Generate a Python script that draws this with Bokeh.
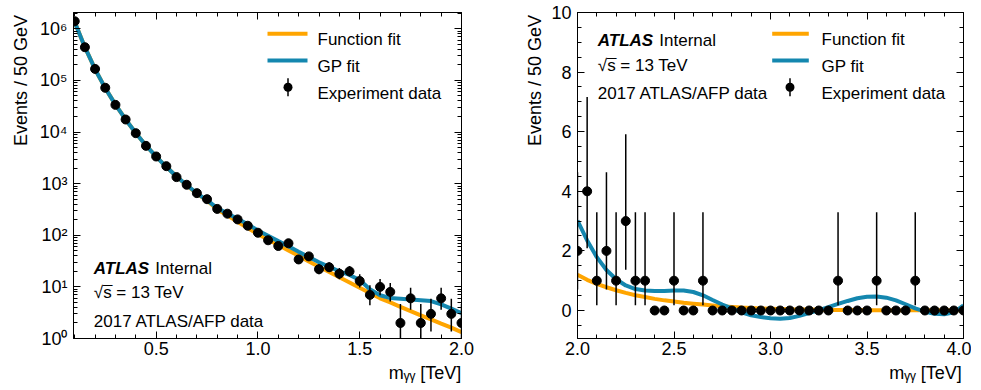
import numpy as np
from bokeh.plotting import figure
from bokeh.layouts import row
from bokeh.models import (Range1d, FixedTicker, LinearAxis, LogAxis, Label,
                          BoxAnnotation, CustomJSTickFormatter)
from bokeh.embed import file_html
from bokeh.resources import INLINE

# ---------------- data ----------------
bins_left = [0.10, 0.15, 0.20, 0.25, 0.30, 0.35, 0.40, 0.45, 0.50, 0.55,
             0.60, 0.65, 0.70, 0.75, 0.80, 0.85, 0.90, 0.95, 1.00, 1.05,
             1.10, 1.15, 1.20, 1.25, 1.30, 1.35, 1.40, 1.45, 1.50, 1.55,
             1.60, 1.65, 1.70, 1.75, 1.80, 1.85, 1.90, 1.95, 2.00]
counts_left = [1400000, 440000, 167000, 72000, 33600, 17500, 9500, 5400, 3360, 2180,
               1340, 952, 655, 500, 324, 262, 203, 153, 112, 80,
               62, 70, 34, 39, 22, 24, 18, 20, 13, 7,
               10, 8, 2, 6, 2, 3, 6, 3, 2]
func_fit_left = [1350000, 440000, 165000, 71000, 34000, 17500, 9600, 5500, 3350, 2120,
                 1380, 930, 640, 470, 316, 243, 183, 138, 105, 83,
                 65, 51, 40, 31, 24.5, 19.5, 15.4, 12.2, 9.6, 7.6,
                 6.0, 5.0, 4.1, 3.4, 2.8, 2.35, 1.95, 1.62, 1.32]
gp_fit_left = [1350000, 440000, 165000, 71000, 34000, 17500, 9600, 5500, 3350, 2120,
               1380, 940, 650, 480, 336, 265, 208, 163, 124, 98,
               77, 61, 48, 38, 30, 24.5, 20, 17, 13.6, 9.0,
               6.9, 6.1, 5.9, 5.7, 5.5, 5.3, 4.6, 3.8, 3.1]

bins_right = [2.00, 2.05, 2.10, 2.15, 2.20, 2.25, 2.30, 2.35, 2.40, 2.45,
              2.50, 2.55, 2.60, 2.65, 2.70, 2.75, 2.80, 2.85, 2.90, 2.95,
              3.00, 3.05, 3.10, 3.15, 3.20, 3.25, 3.30, 3.35, 3.40, 3.45,
              3.50, 3.55, 3.60, 3.65, 3.70, 3.75, 3.80, 3.85, 3.90, 3.95, 4.00]
counts_right = [2, 4, 1, 2, 1, 3, 1, 1, 0, 0,
                1, 0, 0, 1, 0, 0, 0, 0, 0, 0,
                0, 0, 0, 0, 0, 0, 0, 1, 0, 0,
                0, 1, 0, 0, 0, 1, 0, 0, 0, 0, 0]
func_fit_right = [1.20, 1.03, 0.89, 0.78, 0.68, 0.59, 0.51, 0.45, 0.39, 0.34,
                  0.30, 0.26, 0.23, 0.20, 0.17, 0.14, 0.12, 0.10, 0.085, 0.07,
                  0.06, 0.05, 0.04, 0.035, 0.03, 0.025, 0.02, 0.018, 0.016, 0.014,
                  0.012, 0.011, 0.010, 0.009, 0.008, 0.007, 0.007, 0.006, 0.006, 0.005, 0.005]
gp_fit_right = [3.02, 2.35, 1.79, 1.36, 1.05, 0.84, 0.72, 0.67, 0.65, 0.65,
                0.67, 0.67, 0.62, 0.51, 0.35, 0.20, 0.07, -0.06, -0.16, -0.22,
                -0.26, -0.28, -0.25, -0.18, -0.09, 0.01, 0.11, 0.22, 0.32, 0.41,
                0.46, 0.47, 0.43, 0.34, 0.21, 0.07, -0.04, -0.11, -0.13, -0.06, 0.17]

x_ticks_left = [0.5, 1.0, 1.5, 2.0]
x_minor_left = [0.1, 0.2, 0.3, 0.4, 0.6, 0.7, 0.8, 0.9, 1.1, 1.2, 1.3, 1.4,
                1.6, 1.7, 1.8, 1.9]
x_ticks_right = [2.0, 2.5, 3.0, 3.5, 4.0]
x_minor_right = [2.1, 2.2, 2.3, 2.4, 2.6, 2.7, 2.8, 2.9, 3.1, 3.2, 3.3, 3.4,
                 3.6, 3.7, 3.8, 3.9]
y_ticks_left = [1, 10, 100, 1000, 10000, 100000, 1000000]
y_ticks_right = [0, 2, 4, 6, 8, 10]

legend_labels = ["Function fit", "GP fit", "Experiment data"]
atlas_lines = ["√s = 13 TeV", "2017 ATLAS/AFP data"]
y_title = "Events / 50 GeV"
x_title = "m\u1d67\u1d67 [TeV]"

# 68% Poisson (Garwood) intervals for small counts
garwood = {1: (0.173, 3.300), 2: (0.708, 4.638), 3: (1.367, 5.918),
           4: (2.086, 7.163), 5: (2.840, 8.382), 6: (3.620, 9.584),
           7: (4.419, 10.77), 8: (5.232, 11.95), 9: (6.057, 13.11),
           10: (6.891, 14.27)}


def err_limits(n):
    if n in garwood:
        return garwood[n]
    return (n - np.sqrt(n) + 0.3, n + np.sqrt(n) + 1.0)


FONT = "Liberation Sans"
ORANGE = "#FFA500"
BLUE = "#1487AF"
TICK_FS = "18px"
TEXT_FS = "17px"
NB = "\u00a0"

FH = 326  # frame height in px


def style_axis(ax, ticker, formatter, show, standoff=6):
    ax.ticker = ticker
    ax.formatter = formatter if show else CustomJSTickFormatter(code="return ''")
    ax.major_tick_in = 7
    ax.major_tick_out = 0
    ax.minor_tick_in = 4
    ax.minor_tick_out = 0
    ax.axis_line_color = "black"
    ax.major_tick_line_color = "black"
    ax.minor_tick_line_color = "black"
    ax.major_label_text_font = FONT
    ax.major_label_text_color = "black"
    ax.major_label_text_font_size = TICK_FS if show else "0px"
    ax.major_label_standoff = standoff if show else 0
    ax.axis_label = None


def set_title(ax, label, pad, standoff):
    # centred axis title; leading non-breaking spaces push the words to the
    # end of the axis (top / right) as in the ATLAS style
    ax.axis_label_text_font = FONT
    ax.axis_label_text_font_size = "18px"
    ax.axis_label_text_font_style = "normal"
    ax.axis_label_text_color = "black"
    ax.axis_label_standoff = standoff
    ax.axis_label = NB * pad + label


def text(p, s, x, y, size=TEXT_FS, style="normal", align="left",
         baseline="alphabetic", angle=0.0):
    p.add_layout(Label(x=x, y=y, x_units="screen", y_units="screen", text=s,
                       text_font=FONT, text_font_size=size, text_font_style=style,
                       text_color="black", text_align=align,
                       text_baseline=baseline, angle=angle))


def box(p, l, r, b, t, color, radius=0):
    p.add_layout(BoxAnnotation(left=l, right=r, bottom=b, top=t,
                               left_units="screen", right_units="screen",
                               bottom_units="screen", top_units="screen",
                               fill_color=color, fill_alpha=1.0,
                               line_color=None, border_radius=radius))


def make_panel(fw, xr, yr, ylog, min_left, min_right,
               bins, counts, ffit, gpfit, xticks, xminor, yticks, atlas_pos,
               leg_sw, leg_mark, ytitle_standoff, xpad):
    p = figure(frame_width=fw, frame_height=FH,
               x_range=Range1d(*xr), y_range=Range1d(*yr),
               y_axis_type="log" if ylog else "linear",
               output_backend="svg", toolbar_location=None,
               min_border_left=min_left, min_border_right=min_right,
               min_border_top=12, min_border_bottom=40)
    p.xgrid.visible = False
    p.ygrid.visible = False
    p.outline_line_color = "black"
    p.outline_line_alpha = 1.0
    p.background_fill_color = "white"
    p.border_fill_color = "white"

    xticker = FixedTicker(ticks=xticks, minor_ticks=xminor)
    xfmt = CustomJSTickFormatter(code="return tick.toFixed(1);")
    if ylog:
        yminor = [k * 10 ** d for d in range(0, 7) for k in range(2, 10)]
        yfmt = CustomJSTickFormatter(code="""
            const sup = {'0':'\u2070','1':'\u00b9','2':'\u00b2','3':'\u00b3','4':'\u2074',
                         '5':'\u2075','6':'\u2076','7':'\u2077','8':'\u2078','9':'\u2079'};
            const e = Math.round(Math.log10(tick));
            return '10' + String(e).split('').map(c => sup[c]).join('');""")
    else:
        yminor = [v / 2 for v in range(-2, 21)]
        yfmt = CustomJSTickFormatter(code="return tick.toFixed(0);")
    yticker = FixedTicker(ticks=yticks, minor_ticks=yminor)

    style_axis(p.xaxis[0], xticker, xfmt, True, standoff=3)
    style_axis(p.yaxis[0], yticker, yfmt, True, standoff=6)
    set_title(p.yaxis[0], y_title, 38, ytitle_standoff)
    set_title(p.xaxis[0], x_title, xpad, 5)
    top = LinearAxis()
    style_axis(top, FixedTicker(ticks=xticks, minor_ticks=xminor), None, False)
    p.add_layout(top, "above")
    right = LogAxis() if ylog else LinearAxis()
    style_axis(right, FixedTicker(ticks=yticks, minor_ticks=yminor), None, False)
    p.add_layout(right, "right")

    # fits
    p.line(bins, ffit, line_width=4, color=ORANGE)
    p.line(bins, gpfit, line_width=4, color=BLUE)

    # data with error bars
    ex, elo, ehi = [], [], []
    for xv, n in zip(bins, counts):
        if n > 0:
            lo, hi = err_limits(n)
            ex.append(xv)
            elo.append(lo)
            ehi.append(hi)
    p.segment(x0=ex, y0=elo, x1=ex, y1=ehi, line_width=1.5, color="black")
    p.scatter(bins, counts, size=9, color="black")

    # ATLAS label
    ax_, ys = atlas_pos
    text(p, "ATLAS", ax_, ys[0], style="bold italic")
    text(p, "Internal", ax_ + 61.5, ys[0])
    text(p, atlas_lines[0], ax_, ys[1])
    text(p, "\u00af", ax_ + 9.3, ys[1])
    text(p, atlas_lines[1], ax_, ys[2])

    # legend
    rows = [FH - 21.3, FH - 48.0, FH - 74.7]
    sl, sr = leg_sw
    box(p, sl, sr, rows[0] - 2, rows[0] + 2, ORANGE)
    box(p, sl, sr, rows[1] - 2, rows[1] + 2, BLUE)
    box(p, leg_mark - 0.75, leg_mark + 0.75, rows[2] - 9, rows[2] + 9, "black")
    box(p, leg_mark - 4.5, leg_mark + 4.5, rows[2] - 4.5, rows[2] + 4.5, "black", radius=5)
    for lab, yc in zip(legend_labels, rows):
        text(p, lab, 244, yc - 6)
    return p


p1 = make_panel(388, (0.094, 2.0), (1, 2.07e6), True, 73, 19,
                bins_left, counts_left, func_fit_left, gp_fit_left,
                x_ticks_left, x_minor_left, y_ticks_left, (20.3, [70.3, 46.3, 17.0]),
                (194, 234), 214.5, 6, 63)
p2 = make_panel(386, (2.0, 4.0), (-0.94, 10), False, 97, 8,
                bins_right, counts_right, func_fit_right, gp_fit_right,
                x_ticks_right, x_minor_right, y_ticks_right, (20.3, [298.0, 273.0, 244.7]),
                (194.7, 231.3), 212.5, 3, 62)

layout = row(p1, p2)
open("out.html", "w").write(file_html(layout, INLINE))
